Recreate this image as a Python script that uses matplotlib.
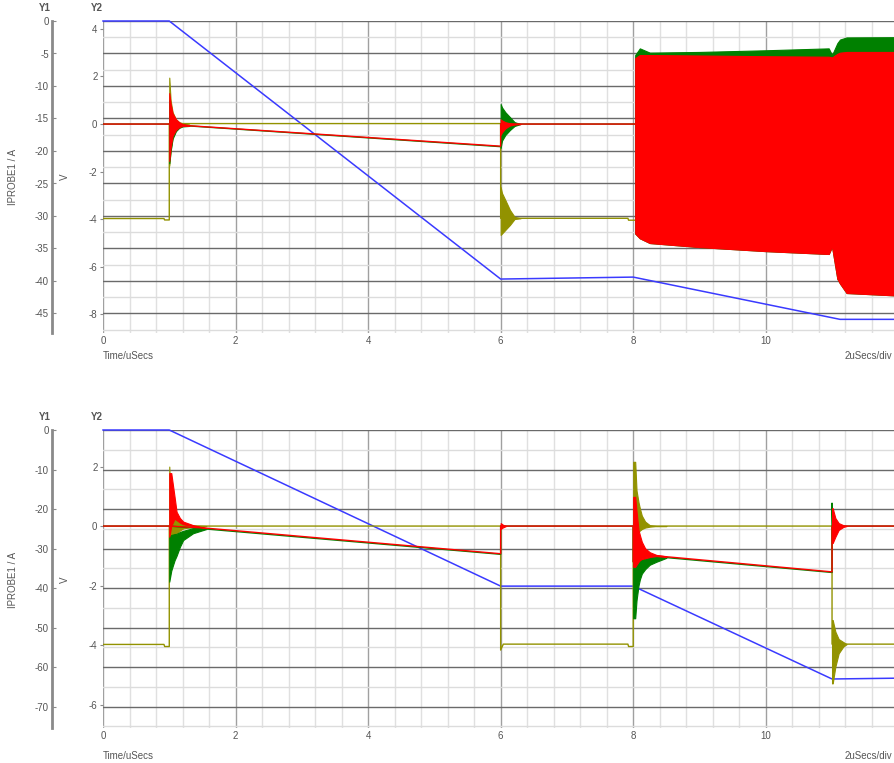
import matplotlib
matplotlib.use('Agg')
import matplotlib.pyplot as plt
import numpy as np

plt.rcParams['font.family'] = ['Liberation Sans', 'DejaVu Sans']
plt.rcParams['axes.unicode_minus'] = False

W, H = 895, 763
X_END = 11.95

BLUE = '#3a3aff'
RED = '#ff0000'
GREEN = '#008000'
OLIVE = '#929200'
TXT = '#555555'

# ---------------- top panel data ----------------
# IPROBE1 current (Y1, A)
t_ip_top = [0, 1.0, 6.0, 8.0, 11.12, 11.95]
ip_top = [0, 0, -39.7, -39.4, -45.9, -45.9]

# voltage traces (Y2, V)
t_olive_top = [0, 0.92, 0.93, 1.0, 1.0, 1.3, 6.0, 6.0, 6.3, 7.92, 7.93, 8.02]
v_olive_top = [-3.97, -3.97, -4.03, -4.03, 0.02, 0.02, 0.02, -3.96, -3.96, -3.96, -4.04, -4.04]
t_red_top = [0, 1.0, 1.3, 6.0, 6.0, 7.95, 8.03]
v_red_top = [0, 0, -0.07, -0.93, 0, 0, 0]
t_green_top = [0, 1.0, 1.3, 6.0, 6.0, 7.95, 8.03]
v_green_top = [0, 0, -0.08, -0.95, 0, 0, 0]

# ringing envelopes at 1 us
ring1_t = [1.0, 1.02, 1.05, 1.1, 1.15, 1.2, 1.3]
olive_up_1 = [1.95, 1.0, 0.5, 0.2, 0.08, 0.03, 0.02]
olive_lo_1 = [-1.75, -1.1, -0.55, -0.25, -0.1, -0.03, 0.02]
green_up_1 = [1.0, 0.6, 0.3, 0.12, 0.04, -0.02, -0.06]
green_lo_1 = [-1.65, -1.15, -0.62, -0.3, -0.16, -0.1, -0.08]
red_up_1 = [1.3, 0.85, 0.45, 0.2, 0.07, 0.0, -0.06]
red_lo_1 = [-1.55, -1.0, -0.5, -0.25, -0.13, -0.08, -0.07]

# ringing envelopes at 6 us
ring6_t = [6.0, 6.02, 6.07, 6.14, 6.21, 6.3]
green_up_6 = [0.84, 0.7, 0.5, 0.29, 0.08, 0.0]
green_lo_6 = [-1.0, -0.7, -0.46, -0.25, -0.08, 0.0]
red_up_6 = [0.2, 0.15, 0.08, 0.03, 0.01, 0.0]
red_lo_6 = [-0.45, -0.35, -0.18, -0.06, -0.02, 0.0]
olive_up_6 = [-2.65, -2.9, -3.19, -3.61, -3.9, -3.96]
olive_lo_6 = [-4.66, -4.6, -4.45, -4.24, -3.99, -3.96]

# dense oscillation block from 8 us
blk_t = [8.03, 8.1, 8.25, 9.0, 10.0, 10.95, 11.0, 11.08, 11.12, 11.22, 11.95]
green_blk_up = [2.9, 3.18, 3.0, 3.03, 3.1, 3.18, 2.9, 3.4, 3.55, 3.64, 3.65]
red_blk_up = [2.77, 2.9, 2.9, 2.88, 2.85, 2.83, 2.8, 2.95, 3.0, 3.03, 3.03]
red_blk_lo = [-4.6, -4.8, -5.0, -5.17, -5.34, -5.46, -5.15, -6.5, -6.7, -7.1, -7.2]

# ---------------- bottom panel data ----------------
t_ip_bot = [0, 1.0, 6.0, 8.0, 11.0, 11.95]
ip_bot = [0, 0, -39.5, -39.5, -63.0, -62.8]

t_olive_bot = [0, 0.92, 0.93, 1.0, 1.0, 1.56, 6.0, 6.0, 6.04, 7.92, 7.93, 8.0, 8.0, 8.5, 11.0, 11.0, 11.22, 11.95]
v_olive_bot = [-3.98, -3.98, -4.05, -4.05, 0.0, 0.0, 0.0, -4.17, -3.97, -3.97, -4.05, -4.05, 0.0, 0.0, 0.0, -3.97, -3.97, -3.97]
t_red_bot = [0, 1.0, 1.56, 6.0, 6.0, 8.0, 8.0, 8.35, 11.0, 11.0, 11.95]
v_red_bot = [0, 0, -0.07, -0.93, 0, 0, -1.2, -1.0, -1.54, 0, 0]
t_green_bot = [0, 1.0, 1.56, 6.0, 6.0, 8.0, 8.0, 8.5, 11.0, 11.0, 11.01, 11.95]
v_green_bot = [0, 0, -0.1, -0.95, 0, 0, -1.2, -1.06, -1.56, 0.77, 0, 0]

ring1b_t = [1.0, 1.03, 1.08, 1.11, 1.16, 1.21, 1.36, 1.56]
red_up_1b = [1.78, 1.78, 0.98, 0.48, 0.27, 0.15, 0.03, -0.07]
red_lo_1b = [-0.36, 0.0, 0.25, 0.2, 0.12, 0.06, 0.0, -0.07]
olive_up_1b = [2.0, 0.4, 0.3, 0.27, 0.2, 0.1, 0.02, 0.0]
olive_lo_1b = [-0.3, -0.3, -0.28, -0.24, -0.15, -0.08, -0.02, 0.0]
green_up_1b = [-0.36, -0.3, -0.27, -0.26, -0.2, -0.16, -0.07, -0.08]
green_lo_1b = [-1.87, -1.5, -1.15, -1.0, -0.7, -0.47, -0.24, -0.1]

ring6b_t = [6.0, 6.03, 6.08]
red_up_6b = [0.1, 0.05, 0.0]
red_lo_6b = [-0.1, -0.05, 0.0]

ring8b_t = [8.0, 8.03, 8.05, 8.08, 8.1, 8.13, 8.18, 8.25, 8.35, 8.5]
olive_up_8b = [2.16, 2.16, 1.2, 0.8, 0.6, 0.35, 0.15, 0.03, 0.0, 0.0]
olive_lo_8b = [-0.4, -0.4, -0.3, -0.2, -0.15, -0.1, -0.05, -0.02, 0.0, 0.0]
red_up_8b = [0.98, 0.98, 0.5, -0.13, -0.3, -0.53, -0.75, -0.88, -0.97, -1.02]
red_lo_8b = [-1.37, -1.37, -1.3, -1.2, -1.15, -1.09, -1.06, -1.03, -1.01, -1.04]
green_up_8b = [-1.15, -1.15, -1.15, -1.15, -1.15, -1.12, -1.1, -1.05, -1.02, -1.04]
green_lo_8b = [-3.1, -3.1, -2.5, -2.0, -1.8, -1.6, -1.45, -1.3, -1.2, -1.07]

ring11b_t = [11.0, 11.01, 11.05, 11.1, 11.17, 11.22]
red_up_11b = [0.6, 0.6, 0.27, 0.1, 0.03, 0.0]
red_lo_11b = [-0.57, -0.57, -0.36, -0.13, -0.03, 0.0]
olive_up_11b = [-3.16, -3.16, -3.55, -3.8, -3.9, -3.97]
olive_lo_11b = [-5.29, -5.29, -4.73, -4.28, -4.05, -3.97]

# axis ranges / ticks
x_ticks = [0, 2, 4, 6, 8, 10]
y1_ticks_top = [0, -5, -10, -15, -20, -25, -30, -35, -40, -45]
y2_ticks_top = [4, 2, 0, -2, -4, -6, -8]
y1_ticks_bot = [0, -10, -20, -30, -40, -50, -60, -70]
y2_ticks_bot = [2, 0, -2, -4, -6]

fig = plt.figure(figsize=(W / 100, H / 100), dpi=100)


def px_text(x, y, s, **kw):
    kw.setdefault('fontsize', 7)
    kw.setdefault('color', TXT)
    fig.text(x / W, 1 - y / H, s, **kw)


def make_panel(top_px, bot_px, y1_lim, y1_ticks, y1_step, y2_lim, y2_ticks):
    left = 103 / W
    ax = fig.add_axes([left, 1 - bot_px / H, 1 - left, (bot_px - top_px) / H])
    ax.set_xlim(0, X_END)
    ax.set_ylim(*y1_lim)
    ax.set_xticks(x_ticks)
    ax.set_xticks(np.arange(0, 12, 0.4), minor=True)
    ax.set_yticks(y1_ticks)
    ax.set_yticks(np.arange(-y1_step / 2, y1_lim[0], -y1_step), minor=True)

    ax.set_axisbelow(True)
    ax.xaxis.grid(True, which='minor', color='#e0e0e0', lw=1)
    ax.xaxis.grid(True, which='major', color='#a0a0a0', lw=1)
    ax.yaxis.grid(True, which='minor', color='#dcdcdc', lw=1)
    ax.yaxis.grid(True, which='major', color='#6a6a6a', lw=1)

    for s in ['top', 'right', 'bottom']:
        ax.spines[s].set_visible(False)
    ax.spines['left'].set_position(('outward', 37))
    ax.spines['left'].set_color('#8a8a8a')
    ax.spines['left'].set_linewidth(2)

    ax.tick_params(axis='x', which='both', length=0, labelsize=7, labelcolor=TXT, pad=2)
    ax.tick_params(axis='y', which='major', direction='in', length=3, color='#8a8a8a',
                   labelsize=7, labelcolor=TXT, pad=2)
    ax.tick_params(axis='y', which='minor', length=0)

    ax2 = ax.twinx()
    ax2.set_ylim(*y2_lim)
    ax2.set_yticks(y2_ticks)
    ax2.yaxis.tick_left()
    ax2.tick_params(axis='y', length=2, pad=2, labelsize=7, labelcolor=TXT, color='#8a8a8a')
    for s in ax2.spines.values():
        s.set_visible(False)
    return ax, ax2


def ring(ax, t, up, lo, color, z):
    ax.fill_between(t, lo, up, color=color, lw=0.8, edgecolor=color, zorder=z)


# ---------------- top panel ----------------
ax, ax2 = make_panel(21, 333, (-48.0, 0), y1_ticks_top, 5, (-8.78, 4.33), y2_ticks_top)
ax.plot(t_ip_top, ip_top, color=BLUE, lw=1.1, zorder=3, clip_on=False)

ax2.plot(t_olive_top, v_olive_top, color=OLIVE, lw=1.0, zorder=2)
ring(ax2, ring1_t, olive_up_1, olive_lo_1, OLIVE, 2)
ring(ax2, ring6_t, olive_up_6, olive_lo_6, OLIVE, 2)
ax2.plot(t_green_top, v_green_top, color=GREEN, lw=1.0, zorder=3)
ring(ax2, ring1_t, green_up_1, green_lo_1, GREEN, 3)
ring(ax2, ring6_t, green_up_6, green_lo_6, GREEN, 3)
ring(ax2, blk_t, green_blk_up, red_blk_lo, GREEN, 3)
ax2.plot(t_red_top, v_red_top, color=RED, lw=1.0, zorder=4)
ring(ax2, ring1_t, red_up_1, red_lo_1, RED, 4)
ring(ax2, ring6_t, red_up_6, red_lo_6, RED, 4)
ring(ax2, blk_t, red_blk_up, red_blk_lo, RED, 4)

# ---------------- bottom panel ----------------
bx, bx2 = make_panel(430, 728, (-75.4, 0), y1_ticks_bot, 10, (-6.79, 3.23), y2_ticks_bot)
bx.plot(t_ip_bot, ip_bot, color=BLUE, lw=1.1, zorder=3, clip_on=False)

bx2.plot(t_olive_bot, v_olive_bot, color=OLIVE, lw=1.0, zorder=2)
ring(bx2, ring1b_t, olive_up_1b, olive_lo_1b, OLIVE, 2)
ring(bx2, ring8b_t, olive_up_8b, olive_lo_8b, OLIVE, 2)
ring(bx2, ring11b_t, olive_up_11b, olive_lo_11b, OLIVE, 2)
bx2.plot(t_green_bot, v_green_bot, color=GREEN, lw=1.0, zorder=3)
ring(bx2, ring1b_t, green_up_1b, green_lo_1b, GREEN, 3)
ring(bx2, ring8b_t, green_up_8b, green_lo_8b, GREEN, 3)
bx2.plot(t_red_bot, v_red_bot, color=RED, lw=1.0, zorder=4)
ring(bx2, ring1b_t, red_up_1b, red_lo_1b, RED, 4)
ring(bx2, ring6b_t, red_up_6b, red_lo_6b, RED, 4)
ring(bx2, ring8b_t, red_up_8b, red_lo_8b, RED, 4)
ring(bx2, ring11b_t, red_up_11b, red_lo_11b, RED, 4)

# ---------------- labels ----------------
for y_head, y_mid, y_time in [(8, 177, 356), (417, 580, 756)]:
    px_text(45, y_head, 'Y1', ha='center', va='center', fontweight='bold')
    px_text(97, y_head, 'Y2', ha='center', va='center', fontweight='bold')
    px_text(13, y_mid, 'IPROBE1 / A', ha='center', va='center', rotation=90)
    px_text(65, y_mid, 'V', ha='center', va='center', rotation=90)
    px_text(103, y_time, 'Time/uSecs', ha='left', va='center')
    px_text(892, y_time, '2uSecs/div', ha='right', va='center')

fig.savefig('out.png', dpi=100)
